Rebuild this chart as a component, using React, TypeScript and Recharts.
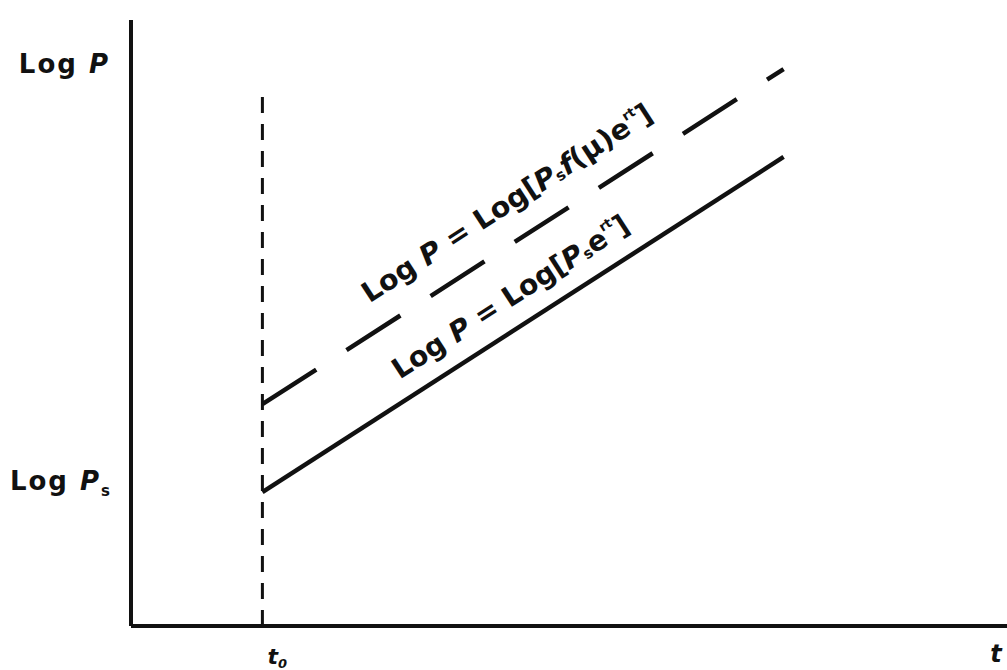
import React from "react";
import { LineChart, Line, XAxis, YAxis, ReferenceLine, ReferenceDot } from "recharts";

// time axis: start of growth (t0) and the end of both lines
const T_VALUES = [1.5, 7.45];
// Log P = Log[Ps e^rt]
const LOG_P_BASE = [2.21, 7.74];
// Log P = Log[Ps f(μ) e^rt]
const LOG_P_MOD = [3.66, 9.19];
// extent of the dotted guide at t0
const T0_GUIDE = [0, 8.81];

const INK = "#111";
const FONT = "'DejaVu Sans', 'Liberation Sans', Arial, sans-serif";

const data = T_VALUES.map((t, i) => ({ t, base: LOG_P_BASE[i], mod: LOG_P_MOD[i] }));

// y of a two-point series at a given t
const along = (ys: number[], t: number) =>
  ys[0] + ((t - T_VALUES[0]) / (T_VALUES[1] - T_VALUES[0])) * (ys[1] - ys[0]);

const LABEL_T_MOD = 4.29;
const LABEL_T_BASE = 4.33;

const YTick = ({ x, y }: any) => (
  <text x={x} y={y - 2} textAnchor="end" fill={INK} fontFamily={FONT} fontWeight={700} fontSize={26} letterSpacing={2}>
    Log <tspan fontStyle="italic">P</tspan>
    <tspan fontSize={15} dy={6}>s</tspan>
  </text>
);

const XTick = ({ x, y }: any) => (
  <text x={x + 5} y={y + 30} fill={INK} fontFamily={FONT} fontWeight={700} fontStyle="italic" fontSize={22}>
    t<tspan fontSize={13} dy={4}>0</tspan>
  </text>
);

const slopeLabel = (lift: number, len: number, body: React.ReactNode) => (props: any) => {
  const vb = props.viewBox || {};
  const cx = vb.x + (vb.width || 0) / 2;
  const cy = vb.y + (vb.height || 0) / 2;
  return (
    <text
      transform={`translate(${cx}, ${cy - lift}) rotate(-33)`}
      textAnchor="middle"
      dominantBaseline="central"
      fill={INK}
      fontFamily={FONT}
      fontWeight={700}
      fontSize={28}
      textLength={len}
      lengthAdjust="spacingAndGlyphs"
    >
      {body}
    </text>
  );
};

export default function App() {
  return (
    <div style={{ position: "absolute", left: 0, top: 0, width: 1007, height: 670, background: "#fff" }}>
      <LineChart width={1007} height={670} data={data} margin={{ top: 20, right: 0, bottom: 0, left: 0 }}>
        <XAxis
          type="number"
          dataKey="t"
          domain={[0, 10]}
          ticks={[T_VALUES[0]]}
          tick={<XTick />}
          tickLine={false}
          axisLine={{ stroke: INK, strokeWidth: 4 }}
          height={44}
          allowDataOverflow
          label={{
            content: ({ viewBox }: any) => (
              <text x={viewBox.x + viewBox.width - 11} y={viewBox.y + 36} textAnchor="middle" fill={INK}
                fontFamily={FONT} fontWeight={700} fontStyle="italic" fontSize={24}>
                t
              </text>
            ),
          }}
        />
        <YAxis
          type="number"
          domain={[0, 10]}
          ticks={[LOG_P_BASE[0]]}
          tick={<YTick />}
          tickLine={false}
          tickSize={0}
          tickMargin={19}
          axisLine={{ stroke: INK, strokeWidth: 4 }}
          width={131}
          allowDataOverflow
          label={{
            content: ({ viewBox }: any) => (
              <text x={viewBox.x + viewBox.width - 21} y={viewBox.y + 53} textAnchor="end" fill={INK}
                fontFamily={FONT} fontWeight={700} fontSize={26} letterSpacing={2}>
                Log <tspan fontStyle="italic">P</tspan>
              </text>
            ),
          }}
        />
        <ReferenceLine
          segment={[{ x: T_VALUES[0], y: T0_GUIDE[0] }, { x: T_VALUES[0], y: T0_GUIDE[1] }]}
          stroke={INK}
          strokeWidth={3}
          strokeDasharray="16 11"
        />
        <Line type="linear" dataKey="base" stroke={INK} strokeWidth={4.5} dot={false} activeDot={false} isAnimationActive={false} />
        <Line type="linear" dataKey="mod" stroke={INK} strokeWidth={4.5} strokeDasharray="64 36" dot={false} activeDot={false} isAnimationActive={false} />
        <ReferenceDot
          x={LABEL_T_MOD}
          y={along(LOG_P_MOD, LABEL_T_MOD)}
          r={1}
          fill="none"
          stroke="none"
          label={{
            content: slopeLabel(44, 340, (
              <>
                Log <tspan fontStyle="italic">P</tspan> = Log[<tspan fontStyle="italic">P</tspan>
                <tspan fontSize={15} dy={6}>s</tspan>
                <tspan dy={-6} fontStyle="italic">f</tspan>(μ)e
                <tspan fontSize={13} dy={-9}>rt</tspan>
                <tspan dy={9}>]</tspan>
              </>
            )),
          }}
        />
        <ReferenceDot
          x={LABEL_T_BASE}
          y={along(LOG_P_BASE, LABEL_T_BASE)}
          r={1}
          fill="none"
          stroke="none"
          label={{
            content: slopeLabel(36, 276, (
              <>
                Log <tspan fontStyle="italic">P</tspan> = Log[<tspan fontStyle="italic">P</tspan>
                <tspan fontSize={15} dy={6}>s</tspan>
                <tspan dy={-6}>e</tspan>
                <tspan fontSize={13} dy={-9}>rt</tspan>
                <tspan dy={9}>]</tspan>
              </>
            )),
          }}
        />
      </LineChart>
    </div>
  );
}
